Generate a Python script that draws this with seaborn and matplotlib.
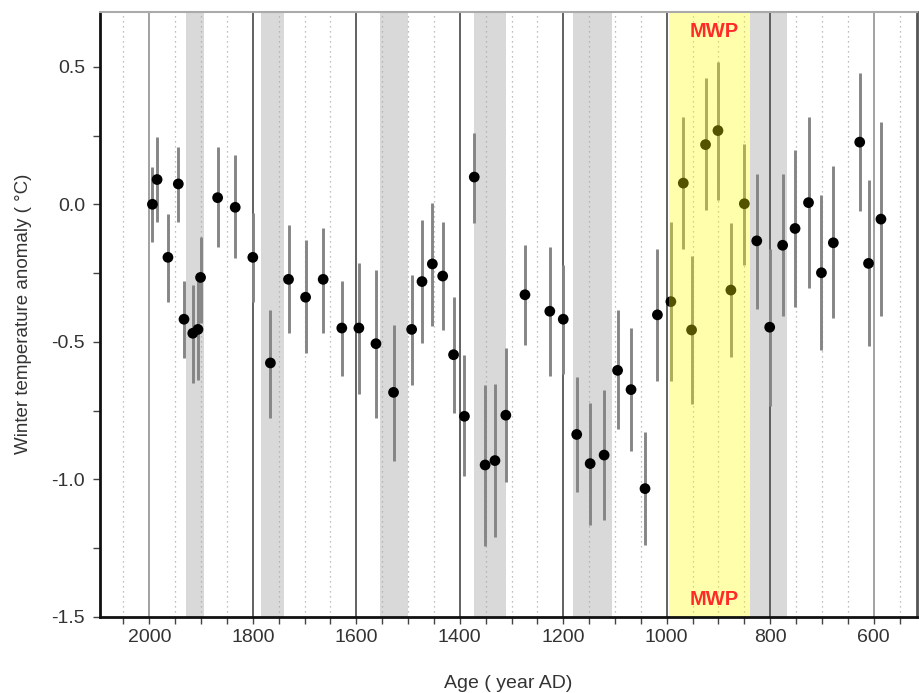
import numpy as np
import pandas as pd
import matplotlib
matplotlib.use("Agg")
import matplotlib.pyplot as plt
from matplotlib.ticker import MultipleLocator
import seaborn as sns

sns.set_style("ticks")
plt.rcParams['font.family'] = ['Liberation Sans', 'DejaVu Sans']

# reconstructed winter temperature anomaly
years = [1994, 1985, 1964, 1944, 1933, 1916, 1906, 1901, 1868, 1834, 1800, 1766,
         1731, 1698, 1664, 1628, 1595, 1562, 1528, 1493, 1473, 1453, 1433, 1412,
         1391, 1372, 1351, 1332, 1311, 1274, 1226, 1200, 1174, 1148, 1121, 1095,
         1069, 1042, 1018, 992, 968, 952, 925, 901, 876, 850, 826, 801, 776, 752,
         726, 701, 678, 627, 610, 586]
anomaly = [0.0, 0.09, -0.193, 0.074, -0.418, -0.469, -0.455, -0.266, 0.024, -0.011,
           -0.193, -0.577, -0.273, -0.338, -0.273, -0.45, -0.45, -0.507, -0.684,
           -0.455, -0.281, -0.217, -0.261, -0.547, -0.771, 0.099, -0.948, -0.932,
           -0.767, -0.329, -0.389, -0.418, -0.837, -0.943, -0.912, -0.604, -0.674,
           -1.034, -0.402, -0.354, 0.077, -0.457, 0.217, 0.268, -0.312, 0.002,
           -0.133, -0.447, -0.149, -0.088, 0.006, -0.249, -0.14, 0.226, -0.215, -0.054]
err_hi = [0.135, 0.244, -0.034, 0.208, -0.28, -0.293, -0.28, -0.118, 0.208, 0.18,
          -0.031, -0.384, -0.076, -0.13, -0.088, -0.28, -0.213, -0.239, -0.438,
          -0.257, -0.058, 0.006, -0.064, -0.336, -0.547, 0.258, -0.656, -0.652,
          -0.523, -0.149, -0.157, -0.221, -0.628, -0.722, -0.676, -0.386, -0.45,
          -0.829, -0.161, -0.064, 0.316, -0.188, 0.459, 0.518, -0.068, 0.22,
          0.109, -0.161, 0.111, 0.198, 0.316, 0.033, 0.138, 0.476, 0.087, 0.298]
err_lo = [-0.137, -0.064, -0.354, -0.064, -0.559, -0.65, -0.64, -0.43, -0.155, -0.197,
          -0.357, -0.776, -0.469, -0.541, -0.469, -0.623, -0.69, -0.776, -0.934,
          -0.656, -0.505, -0.442, -0.457, -0.758, -0.988, -0.068, -1.242, -1.211,
          -1.01, -0.511, -0.623, -0.616, -1.046, -1.167, -1.147, -0.819, -0.897,
          -1.239, -0.641, -0.644, -0.161, -0.728, -0.022, 0.017, -0.556, -0.221,
          -0.382, -0.734, -0.408, -0.372, -0.305, -0.531, -0.414, -0.024, -0.514, -0.406]

# cold periods (grey) and Medieval Warm Period (yellow)
cold_start = [1930, 1785, 1555, 1372, 1181, 840]
cold_end = [1895, 1740, 1500, 1310, 1105, 768]
mwp_start, mwp_end = 995, 840

df = pd.DataFrame({"year": years, "anomaly": anomaly, "hi": err_hi, "lo": err_lo})

fig = plt.figure(figsize=(9.19, 6.93), dpi=100)
ax = fig.add_axes([0.109, 0.110, 0.889, 0.873])

for s, e in zip(cold_start, cold_end):
    ax.axvspan(s, e, color="#d9d9d9", lw=0, zorder=0)

# grid: solid every 200 yr, dotted every 50 yr
for yr in range(550, 2100, 50):
    if yr % 200 == 0:
        c = "#9a9a9a" if yr in (2000, 600) else "#555555"
        ax.axvline(yr, color=c, lw=1.3, zorder=1)
    else:
        ax.axvline(yr, color="#aaaaaa", lw=0.9, ls=(0, (1, 3)), zorder=1)

ax.vlines(df["year"], df["lo"], df["hi"], color="#858585", lw=2.1, zorder=3)
sns.scatterplot(data=df, x="year", y="anomaly", color="black", s=60,
                edgecolor="none", ax=ax, zorder=4, legend=False)

ax.axvspan(mwp_start, mwp_end, color="#ffff00", alpha=0.33, lw=0, zorder=5)
ax.text(908, 0.968, "MWP", transform=ax.get_xaxis_transform(), color="#ff2a2a",
        fontsize=14.5, fontweight="bold", ha="center", va="center", zorder=6)
ax.text(908, 0.028, "MWP", transform=ax.get_xaxis_transform(), color="#ff2a2a",
        fontsize=14.5, fontweight="bold", ha="center", va="center", zorder=6)

ax.set_xlim(2095, 516)
ax.set_ylim(-1.5, 0.7)
ax.xaxis.set_major_locator(MultipleLocator(200))
ax.xaxis.set_minor_locator(MultipleLocator(50))
ax.yaxis.set_major_locator(MultipleLocator(0.5))
ax.yaxis.set_minor_locator(MultipleLocator(0.25))
ax.set_yticks([-1.5, -1.0, -0.5, 0.0, 0.5])
ax.set_yticklabels(["-1.5", "-1.0", "-0.5", "0.0", "0.5"])
ax.tick_params(axis="both", which="both", direction="out", length=5, width=1,
               color="#444444", labelsize=14, labelcolor="#333333")
ax.tick_params(axis="x", pad=4)
ax.tick_params(axis="y", pad=6)

ax.set_xlabel("Age ( year AD)", fontsize=14, color="#333333", labelpad=21)
ax.set_ylabel("Winter temperature anomaly ( °C)", fontsize=13.5, color="#333333", labelpad=14)

for side in ("left", "bottom"):
    ax.spines[side].set_color("#111111")
    ax.spines[side].set_linewidth(2)
ax.spines["right"].set_color("#555555")
ax.spines["right"].set_linewidth(2)
ax.spines["top"].set_color("#aaaaaa")
ax.spines["top"].set_linewidth(1.5)
for sp in ax.spines.values():
    sp.set_zorder(7)

fig.savefig("out.png", dpi=100)
